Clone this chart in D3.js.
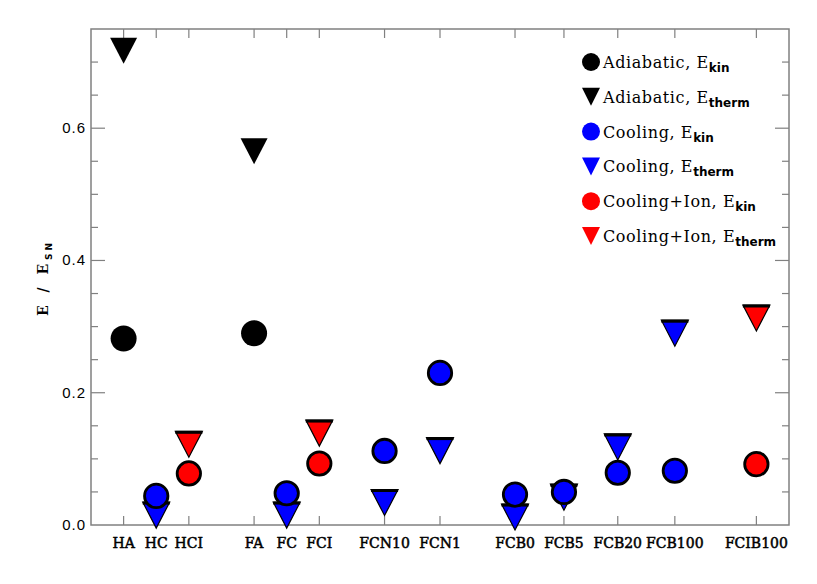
<!DOCTYPE html>
<html>
<head>
<meta charset="utf-8">
<script src="https://d3js.org/d3.v7.min.js"></script>
<style>
body { margin: 0; background: #fff; }
svg { display: block; }
.tick-label { font-family: "Liberation Sans", Arial, sans-serif; font-size: 15px; letter-spacing: 1px; fill: #000; }
.cat-label { font-family: "DejaVu Serif", serif; font-size: 14px; fill: #000; stroke: #000; stroke-width: 0.5; }
.legend text { font-family: "DejaVu Serif", serif; font-size: 16px; letter-spacing: 0.6px; fill: #000; }
.sub { font-family: "DejaVu Sans", sans-serif; font-weight: bold; font-size: 12px; letter-spacing: 0; }
</style>
</head>
<body>
<svg width="817" height="584"></svg>
<script>

// runs and their x positions on the plot
var runs = ["HA", "HC", "HCI", "FA", "FC", "FCI", "FCN10", "FCN1", "FCB0", "FCB5", "FCB20", "FCB100", "FCIB100"];
var runPos = [1, 2, 3, 5, 6, 7, 9, 10.7, 13, 14.5, 16.15, 17.9, 20.4];

// which physics each run uses
var runType = ["adiabatic", "cooling", "ion", "adiabatic", "cooling", "ion", "cooling", "cooling", "cooling", "cooling", "cooling", "cooling", "ion"];

// E / E_SN
var eKin   = [0.282, 0.044, 0.078, 0.290, 0.048, 0.093, 0.112, 0.230, 0.046, 0.050, 0.079, 0.082, 0.092];
var eTherm = [0.717, 0.015, 0.122, 0.565, 0.015, 0.139, 0.034, 0.1125, 0.012, 0.042, 0.118, 0.290, 0.313];

var yTicks = [0.0, 0.2, 0.4, 0.6];

var legendLabels = [
  {type: "adiabatic", sym: "circle", name: "Adiabatic, ", sub: "kin"},
  {type: "adiabatic", sym: "tri", name: "Adiabatic, ", sub: "therm"},
  {type: "cooling", sym: "circle", name: "Cooling, ", sub: "kin"},
  {type: "cooling", sym: "tri", name: "Cooling, ", sub: "therm"},
  {type: "ion", sym: "circle", name: "Cooling+Ion, ", sub: "kin"},
  {type: "ion", sym: "tri", name: "Cooling+Ion, ", sub: "therm"}
];

var colors = {adiabatic: "#000000", cooling: "#0000ff", ion: "#ff0000"};

var svg = d3.select("svg"),
    margin = {top: 29, right: 28, bottom: 59, left: 91},
    width = +svg.attr("width") - margin.left - margin.right,
    height = +svg.attr("height") - margin.top - margin.bottom;

var x = d3.scaleLinear().domain([0, 21.4]).range([margin.left, margin.left + width]);
var y = d3.scaleLinear().domain([0, 0.75]).range([margin.top + height, margin.top]);

var axisColor = "#808080";

// frame
svg.append("rect")
    .attr("x", margin.left).attr("y", margin.top)
    .attr("width", width).attr("height", height)
    .attr("fill", "none").attr("stroke", axisColor).attr("stroke-width", 1.5);

// y ticks, left and right
var minor = d3.range(0.05, 0.75, 0.05);
minor.forEach(function(v) {
    var major = Math.abs(v * 5 - Math.round(v * 5)) < 1e-6;
    var len = major ? 14 : 7;
    svg.append("line")
        .attr("x1", x.range()[0]).attr("x2", x.range()[0] + len)
        .attr("y1", y(v)).attr("y2", y(v))
        .attr("stroke", axisColor).attr("stroke-width", 1.2);
    svg.append("line")
        .attr("x1", x.range()[1]).attr("x2", x.range()[1] - len)
        .attr("y1", y(v)).attr("y2", y(v))
        .attr("stroke", axisColor).attr("stroke-width", 1.2);
});

svg.selectAll(".tick-label")
    .data(yTicks)
  .enter().append("text")
    .attr("class", "tick-label")
    .attr("x", margin.left - 5)
    .attr("y", d => y(d) + 5)
    .attr("text-anchor", "end")
    .text(d => d.toFixed(1));

// x ticks top and bottom
runs.forEach(function(r, i) {
    svg.append("line")
        .attr("x1", x(runPos[i])).attr("x2", x(runPos[i]))
        .attr("y1", y.range()[0]).attr("y2", y.range()[0] - 9)
        .attr("stroke", axisColor).attr("stroke-width", 1.2);
    svg.append("line")
        .attr("x1", x(runPos[i])).attr("x2", x(runPos[i]))
        .attr("y1", y.range()[1]).attr("y2", y.range()[1] + 9)
        .attr("stroke", axisColor).attr("stroke-width", 1.2);
    svg.append("text")
        .attr("class", "cat-label")
        .attr("x", x(runPos[i]))
        .attr("y", y.range()[0] + 23)
        .attr("text-anchor", "middle")
        .text(r);
});

// y axis title
var yt = svg.append("text")
    .attr("transform", "translate(48,278) rotate(-90)")
    .attr("text-anchor", "middle")
    .style("font-family", "DejaVu Serif, serif")
    .style("font-weight", "bold")
    .style("font-size", "14px")
    .style("letter-spacing", "4px");
yt.append("tspan").text("E / E");
yt.append("tspan").attr("class", "sub").attr("dy", 4).style("font-size", "9px").style("letter-spacing", "3px").text("SN");

function triPath(cx, cy, w, h) {
    return "M" + (cx - w / 2) + "," + (cy - h / 2) + "L" + (cx + w / 2) + "," + (cy - h / 2) + "L" + cx + "," + (cy + h / 2) + "Z";
}

function drawTri(g, cx, cy, type, w, h, outline) {
    g.append("path")
        .attr("d", triPath(cx, cy, w, h))
        .attr("fill", colors[type])
        .attr("stroke", outline ? "#000" : "none")
        .attr("stroke-width", 1.2)
        .attr("stroke-linejoin", "miter");
    if (outline) {
        g.append("line")
            .attr("x1", cx - w / 2).attr("x2", cx + w / 2)
            .attr("y1", cy - h / 2 + 1).attr("y2", cy - h / 2 + 1)
            .attr("stroke", "#000").attr("stroke-width", 3);
    }
}

function drawCircle(g, cx, cy, type, r, outline) {
    g.append("circle")
        .attr("cx", cx).attr("cy", cy)
        .attr("r", outline ? r - 1.3 : r)
        .attr("fill", colors[type])
        .attr("stroke", outline ? "#000" : "none")
        .attr("stroke-width", 2.8);
}

var marks = svg.append("g");

runs.forEach(function(r, i) {
    var t = runType[i];
    var outl = t != "adiabatic";
    drawTri(marks, x(runPos[i]), y(eTherm[i]), t, 27, 26, outl);
    drawCircle(marks, x(runPos[i]), y(eKin[i]), t, 13, outl);
});

// legend
var lg = svg.append("g").attr("class", "legend");
legendLabels.forEach(function(d, i) {
    var cy = 62 + i * 34.8;
    if (d.sym == "circle") drawCircle(lg, 591, cy, d.type, 9, false);
    else drawTri(lg, 591, cy, d.type, 18, 18, false);
    var t = lg.append("text").attr("x", 603).attr("y", cy + 6);
    t.append("tspan").text(d.name + "E");
    t.append("tspan").attr("class", "sub").attr("dy", 4).text(d.sub);
});

</script>
</body>
</html>
